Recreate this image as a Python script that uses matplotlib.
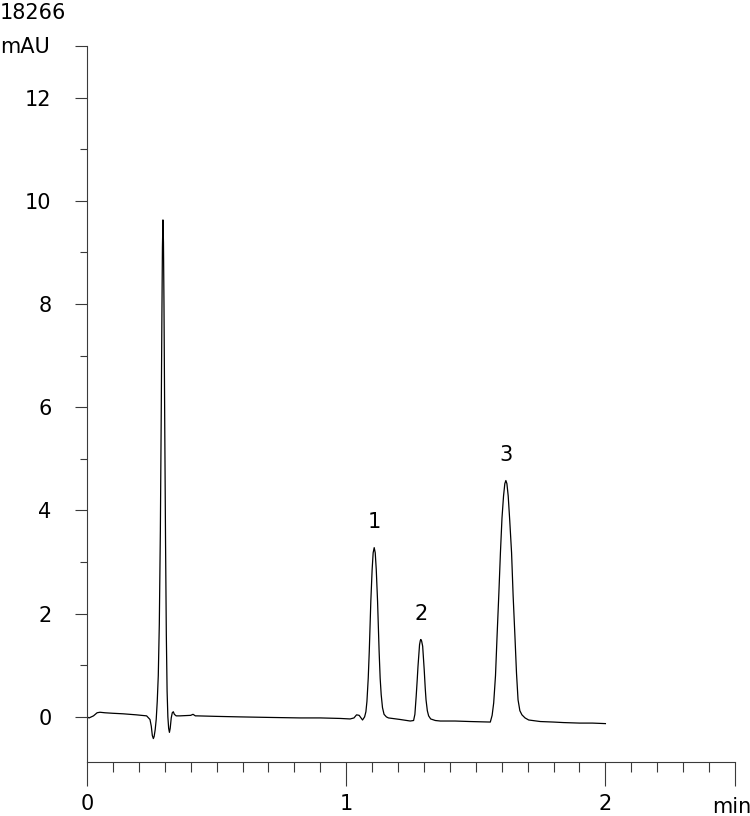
import matplotlib
matplotlib.use('Agg')
import matplotlib.pyplot as plt
import numpy as np
from matplotlib.ticker import MultipleLocator, FixedLocator

# trace (min, mAU)
TIME = [0.000, 0.008, 0.025, 0.039, 0.050, 0.069, 0.100, 0.139, 0.190, 0.230,
        0.243, 0.248, 0.252, 0.256, 0.259, 0.263, 0.267, 0.271, 0.275, 0.279,
        0.283, 0.286, 0.289, 0.291, 0.293, 0.295, 0.297, 0.300, 0.303, 0.306,
        0.309, 0.312, 0.315, 0.318, 0.321, 0.325, 0.329, 0.333, 0.337, 0.344,
        0.359, 0.400, 0.409, 0.418, 0.425, 0.500, 0.591, 0.700, 0.822, 0.900,
        0.977, 1.015, 1.030, 1.040, 1.050, 1.063, 1.071, 1.076, 1.080, 1.085,
        1.089, 1.095, 1.100, 1.104, 1.108, 1.112, 1.116, 1.121, 1.127, 1.131,
        1.135, 1.140, 1.146, 1.155, 1.163, 1.208, 1.247, 1.260, 1.265, 1.270,
        1.274, 1.277, 1.283, 1.286, 1.288, 1.291, 1.295, 1.301, 1.305, 1.308,
        1.313, 1.318, 1.326, 1.344, 1.363, 1.420, 1.479, 1.556, 1.563, 1.569,
        1.576, 1.582, 1.589, 1.595, 1.601, 1.607, 1.612, 1.616, 1.620, 1.625,
        1.631, 1.638, 1.644, 1.651, 1.657, 1.663, 1.670, 1.678, 1.690, 1.704,
        1.749, 1.800, 1.838, 1.900, 1.950, 2.000]
SIGNAL = [0.00, -0.02, 0.02, 0.08, 0.09, 0.08, 0.07, 0.06, 0.04, 0.02,
          -0.05, -0.18, -0.36, -0.42, -0.38, -0.25, -0.05, 0.30, 0.80, 1.80,
          3.60, 5.60, 7.80, 9.10, 9.63, 9.20, 8.00, 5.60, 3.40, 1.60,
          0.50, 0.00, -0.22, -0.30, -0.22, -0.02, 0.08, 0.10, 0.05, 0.02,
          0.02, 0.03, 0.05, 0.02, 0.02, 0.01, 0.00, -0.01, -0.02, -0.02,
          -0.03, -0.04, -0.02, 0.04, 0.03, -0.06, 0.00, 0.10, 0.30, 0.75,
          1.27, 2.24, 2.85, 3.18, 3.28, 3.18, 2.85, 2.24, 1.27, 0.75,
          0.43, 0.18, 0.05, 0.00, -0.02, -0.05, -0.08, -0.07, 0.05, 0.40,
          0.72, 0.98, 1.40, 1.48, 1.50, 1.47, 1.37, 0.91, 0.55, 0.33,
          0.12, 0.02, -0.04, -0.07, -0.08, -0.08, -0.09, -0.10, 0.03, 0.27,
          0.80, 1.56, 2.40, 3.18, 3.85, 4.28, 4.52, 4.58, 4.52, 4.28,
          3.80, 3.18, 2.35, 1.56, 0.85, 0.33, 0.12, 0.04, -0.02, -0.06,
          -0.09, -0.10, -0.11, -0.12, -0.12, -0.13]

PEAK_LABELS = ['1', '2', '3']
PEAK_TIMES = [1.108, 1.288, 1.616]
Y_MAJOR = [0, 2, 4, 6, 8, 10, 12]
X_MAJOR = [0, 1, 2]
FULL_SCALE = '18266'

AXIS_COLOR = '#3a3a3a'
FS = 15

fig = plt.figure(figsize=(7.5, 8.16), dpi=100)
ax = fig.add_axes([87 / 750, 1 - 762 / 816, 648 / 750, 716 / 816])

ax.plot(TIME, SIGNAL, color='black', lw=0.9)

ax.set_xlim(0, 2.5)
ax.set_ylim(-0.874, 13)

for side in ['top', 'right']:
    ax.spines[side].set_visible(False)
for side in ['left', 'bottom']:
    ax.spines[side].set_color(AXIS_COLOR)
    ax.spines[side].set_linewidth(0.8)

# y ticks: labelled evens, unlabelled top tick, short odd ticks
ax.yaxis.set_major_locator(FixedLocator(Y_MAJOR + [13]))
ax.set_yticklabels([str(v) for v in Y_MAJOR] + [''])
ax.yaxis.set_minor_locator(FixedLocator([1, 3, 5, 7, 9, 11]))
ax.tick_params(axis='y', which='major', length=8.6, width=0.8, color=AXIS_COLOR,
               labelsize=FS, pad=17)
ax.tick_params(axis='y', which='minor', length=5, width=0.8, color=AXIS_COLOR)

# x ticks: long at whole minutes and at the end, short every 0.1 min
ax.xaxis.set_major_locator(FixedLocator(X_MAJOR + [2.5]))
ax.set_xticklabels([str(v) for v in X_MAJOR] + [''])
ax.xaxis.set_minor_locator(MultipleLocator(0.1))
ax.tick_params(axis='x', which='major', length=17, width=0.8, color=AXIS_COLOR,
               labelsize=FS, pad=6)
ax.tick_params(axis='x', which='minor', length=7.2, width=0.8, color=AXIS_COLOR)

# peak numbers above apexes
for lab, t in zip(PEAK_LABELS, PEAK_TIMES):
    h = np.interp(t, TIME, SIGNAL)
    ax.annotate(lab, xy=(t, h), xytext=(0, 14), textcoords='offset points',
                ha='center', va='baseline', fontsize=FS)

fig.text(0.0, 1 - 19 / 816, FULL_SCALE, fontsize=FS, va='baseline', ha='left')
fig.text(0.0, 1 - 53 / 816, 'mAU', fontsize=FS, va='baseline', ha='left')
fig.text(712 / 750, 1 - 813 / 816, 'min', fontsize=FS, va='baseline', ha='left')

fig.savefig('out.png', dpi=100)
